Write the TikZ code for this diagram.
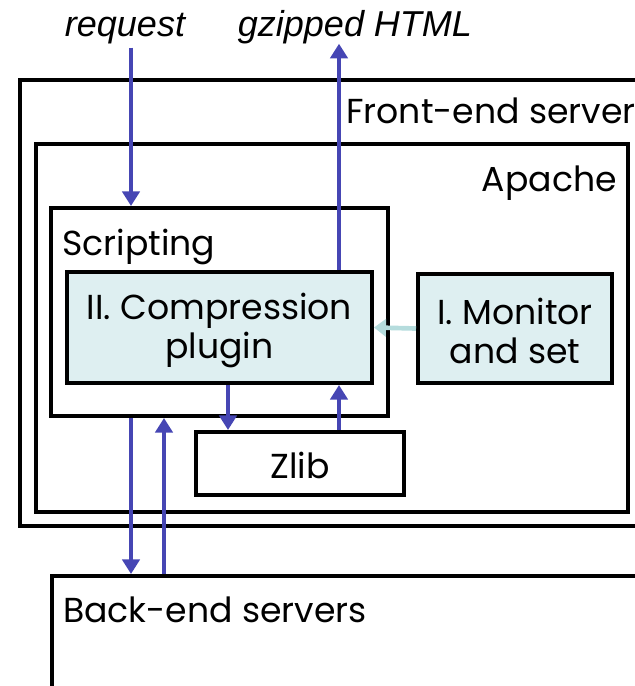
\documentclass[tikz,border=0pt]{standalone}
\usepackage{fontspec}
\setmainfont{Poppins}
\newfontfamily\labelfont{Liberation Sans}
\usetikzlibrary{positioning,fit,arrows.meta}
\definecolor{flowblue}{RGB}{70,70,180}
\definecolor{paleblue}{RGB}{222,239,241}
\definecolor{palearrow}{RGB}{181,220,221}
\tikzstyle{box} = [rectangle, draw, line width=3pt, inner sep=0pt]
\tikzstyle{part} = [box, fill=paleblue]
\tikzstyle{txt} = [inner sep=0pt, align=center, font=\fontsize{26}{29}\selectfont]
\tikzstyle{io} = [inner sep=0pt, font=\labelfont\itshape\fontsize{27}{30}\selectfont]
\tikzstyle{flow} = [draw=flowblue, line width=3.5pt, -{Triangle[width=13pt,length=11pt]}]
\tikzstyle{hint} = [draw=palearrow, line width=3.5pt, -{Triangle[width=13pt,length=9pt]}]

\begin{document}
\begin{tikzpicture}[x=0.75pt, y=-0.75pt]
    \useasboundingbox (0,0) rectangle (635,686);
    % boxes
    \node [box, fit={(20,80) (660,526)}] (front) {};
    \node [box, fit={(36,144) (628,512)}] (apache) {};
    \node [box, fit={(51,208) (388,416)}] (script) {};
    \node [part, fit={(67,272) (372,383)}] (comp) {};
    \node [part, fit={(418,274) (612,383)}] (mon) {};
    \node [box, fit={(196,432) (404,495)}] (zlib) {};
    \node [box, fit={(52,576) (660,720)}] (back) {};
    % texts
    \node [txt] (comptext) at ([yshift=-2pt]comp.center) {II. Compression\\plugin};
    \node [txt] (montext) at ([yshift=-2pt]mon.center) {I. Monitor\\and set};
    \node [txt, anchor=base] (zlibtext) at (300,478) {Zlib};
    \node [txt, anchor=base west] (fronttext) at (346,123) {Front-end server};
    \node [txt, anchor=base east] (apachetext) at (617,191) {Apache};
    \node [txt, anchor=base west] (scripttext) at (62,255) {Scripting};
    \node [txt, anchor=base west] (backtext) at (63,622) {Back-end servers};
    \node [io, anchor=base] (req) at (125,36) {request};
    \node [io, anchor=base] (gz) at (355,36) {gzipped HTML};
    % lines of the arrows
    \coordinate (downx) at (131,0);
    \coordinate (upx) at (164,0);
    \coordinate (outx) at (339,0);
    \coordinate (zipx) at (228,0);
    % edges
    \path [flow] ([yshift=-3pt]req.south -| downx) -- (script.north -| downx);
    \path [flow] (comp.north -| outx) -- (gz.south -| outx);
    \path [flow] (comp.south -| zipx) -- (zlib.north -| zipx);
    \path [flow] (zlib.north -| outx) -- (comp.south -| outx);
    \path [flow] (script.south -| downx) -- (back.north -| downx);
    \path [flow] (back.north -| upx) -- (script.south -| upx);
    \path [hint] (mon.west) -- (comp.east);
\end{tikzpicture}
\end{document}
